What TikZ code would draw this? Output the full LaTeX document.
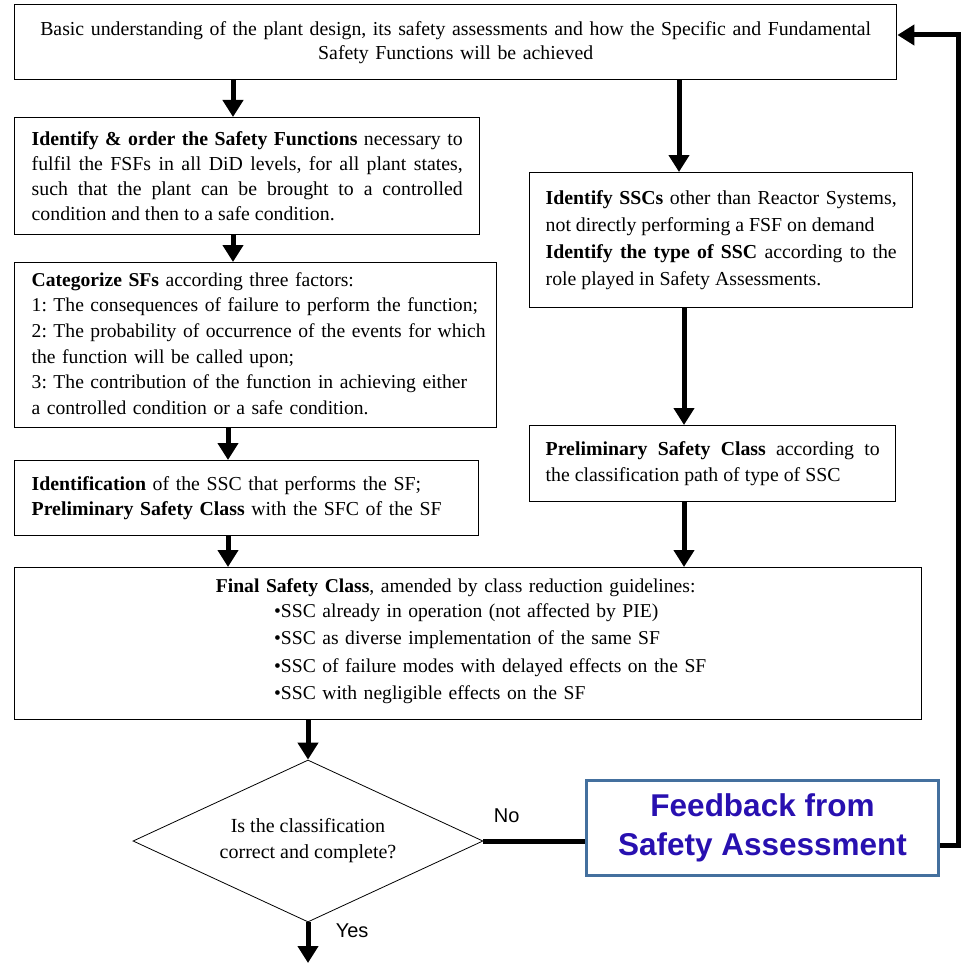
\documentclass[tikz,border=0pt]{standalone}
\usepackage{fontspec}
\setmainfont{Liberation Serif}
\newfontfamily\arialfont{Liberation Sans}
\usetikzlibrary{shapes.geometric,arrows.meta}
\definecolor{fbborder}{RGB}{68,112,158}
\definecolor{fbtext}{RGB}{40,16,176}

\begin{document}
\frenchspacing
\begin{tikzpicture}[x=1pt,y=-1pt,
    box/.style={draw,line width=1.4pt,anchor=north west,inner xsep=17pt,inner ysep=0pt,font=\fontsize{19.8}{25}\selectfont},
    arr/.style={line width=5pt,-{Triangle[width=20pt,length=17pt]}},
    thick line/.style={line width=5pt},
    label text/.style={font=\arialfont\fontsize{20}{24}\selectfont}]
    \useasboundingbox (0,0) rectangle (961,963);
    \node[box,text width=848pt,minimum height=75pt,align=center,font=\fontsize{19.8}{24}\selectfont] (top) at (14,4)
        {Basic understanding of the plant design, its safety assessments and how the Specific and Fundamental\\Safety Functions will be achieved\\[18pt]};
    \node[box,text width=431pt,minimum height=117pt,align=justify] (order) at (14,117)
        {\textbf{Identify \& order the Safety Functions} necessary to\linebreak fulfil the FSFs in all DiD levels, for all plant states,\linebreak such that the plant can be brought to a controlled\linebreak condition and then to a safe condition.};
    \node[box,text width=448pt,minimum height=165pt,align=left,font=\fontsize{19.6}{25.6}\selectfont] (categ) at (14,262)
        {\begin{tabular}{@{}l@{}}
        \textbf{Categorize SFs} according three factors:\\
        1: The consequences of failure to perform the function;\\
        2: The probability of occurrence of the events for which\\
        the function will be called upon;\\
        3: The contribution of the function in achieving either\\
        a controlled condition or a safe condition.
        \end{tabular}\\[-3pt]};
    \node[box,text width=430pt,minimum height=75pt,align=left] (ident) at (14,460)
        {\textbf{Identification} of the SSC that performs the SF;\\
        \textbf{Preliminary Safety Class} with the SFC of the SF};
    \node[box,inner xsep=16pt,text width=351pt,minimum height=135pt,align=justify,font=\fontsize{19.8}{26.7}\selectfont] (other) at (529,172)
        {\textbf{Identify SSCs} other than Reactor Systems,\linebreak not directly performing a FSF on demand\\
        \textbf{Identify the type of SSC} according to the\linebreak role played in Safety Assessments.};
    \node[box,inner xsep=16pt,text width=334pt,minimum height=76pt,align=justify,font=\fontsize{19.8}{26}\selectfont] (prelim) at (529,425)
        {\textbf{Preliminary Safety Class} according to\linebreak the classification path of type of SSC};
    \node[box,text width=873pt,minimum height=152pt,align=center,font=\fontsize{19.6}{27.5}\selectfont] (final) at (14,567)
        {\hspace*{-25pt}\textbf{Final Safety Class}, amended by class reduction guidelines:\\
        \hspace*{44pt}\begin{tabular}{@{}l@{}}
        •SSC already in operation (not affected by PIE)\\
        •SSC as diverse implementation of the same SF\\
        •SSC of failure modes with delayed effects on the SF\\
        •SSC with negligible effects on the SF
        \end{tabular}};
    \node[diamond,draw,line width=0.8pt,aspect=2.16,minimum width=350pt,minimum height=162pt,inner sep=0pt,align=center,font=\fontsize{20}{26}\selectfont] (check) at (308,841)
        {Is the classification\\correct and complete?};
    \node[draw=fbborder,line width=3.5pt,minimum width=352pt,minimum height=95pt,inner sep=0pt,align=center,text=fbtext,font=\arialfont\bfseries\fontsize{31.5}{39}\selectfont] (feedback) at (762.5,828)
        {Feedback from\\Safety Assessment};
    \coordinate (out) at (308,963);
    \draw[arr] (top.south -| 233,0) -- (order.north -| 233,0);
    \draw[arr] (order.south -| 233,0) -- (categ.north -| 233,0);
    \draw[arr] (categ.south -| 228,0) -- (ident.north -| 228,0);
    \draw[arr] (ident.south -| 228,0) -- (final.north -| 228,0);
    \draw[arr] (top.south -| 679,0) -- (other.north -| 679,0);
    \draw[arr] (other.south -| 684,0) -- (prelim.north -| 684,0);
    \draw[arr] (prelim.south -| 684,0) -- (final.north -| 684,0);
    \draw[arr] (final.south -| check.north) -- (check.north);
    \draw[thick line] (check.east) -- node[pos=0.23,above=12pt,label text] {No} (feedback.west |- check.east);
    \draw[arr] (feedback.east |- 0,845) -| (958,35) -- (top.east |- 0,35);
    \draw[arr] (check.south) -- node[pos=0.2,right=22pt,label text] {Yes} (out);
\end{tikzpicture}
\end{document}
